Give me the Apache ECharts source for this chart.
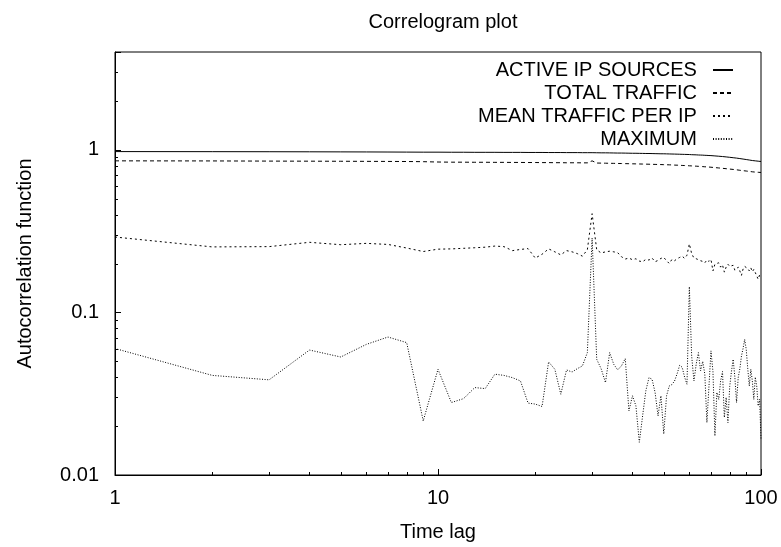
<!DOCTYPE html>
<html><head><meta charset="utf-8">
<script src="https://cdn.jsdelivr.net/npm/echarts@6/dist/echarts.min.js"></script>
<style>html,body{margin:0;padding:0;background:#fff}#c{width:781px;height:547px}</style>
</head><body><div id="c"></div>
<script>
const lags = [1,2,3,4,5,6,7,8,9,10,11,12,13,14,15,16,17,18,19,20,21,22,23,24,25,26,27,28,29,30,31,32,33,34,35,36,37,38,39,40,41,42,43,44,45,46,47,48,49,50,51,52,53,54,55,56,57,58,59,60,61,62,63,64,65,66,67,68,69,70,71,72,73,74,75,76,77,78,79,80,81,82,83,84,85,86,87,88,89,90,91,92,93,94,95,96,97,98,99,100];
const activeIP = [0.976,0.975,0.974,0.973,0.972,0.971,0.970,0.969,0.968,0.968,
0.967,0.967,0.966,0.966,0.966,0.965,0.965,0.965,0.964,0.964,
0.964,0.963,0.963,0.963,0.962,0.962,0.962,0.961,0.961,0.961,
0.960,0.959,0.959,0.958,0.957,0.956,0.956,0.955,0.954,0.953,
0.953,0.952,0.951,0.950,0.950,0.949,0.948,0.947,0.946,0.946,
0.945,0.944,0.943,0.942,0.941,0.940,0.939,0.938,0.937,0.936,
0.934,0.933,0.932,0.930,0.929,0.928,0.926,0.925,0.923,0.922,
0.920,0.918,0.916,0.914,0.912,0.910,0.908,0.905,0.903,0.900,
0.898,0.895,0.892,0.890,0.887,0.884,0.881,0.878,0.875,0.872,
0.869,0.866,0.863,0.860,0.858,0.856,0.854,0.852,0.850,0.848];
const totalTraffic = [0.856,0.855,0.853,0.852,0.851,0.850,0.849,0.848,0.846,0.842,
0.840,0.840,0.839,0.839,0.838,0.838,0.837,0.837,0.836,0.836,
0.835,0.835,0.834,0.834,0.833,0.833,0.833,0.832,0.832,0.856,
0.830,0.829,0.828,0.827,0.826,0.825,0.824,0.823,0.822,0.821,
0.820,0.819,0.818,0.817,0.816,0.815,0.814,0.813,0.812,0.811,
0.810,0.809,0.808,0.806,0.805,0.804,0.802,0.801,0.800,0.798,
0.797,0.795,0.794,0.792,0.791,0.789,0.787,0.786,0.784,0.782,
0.780,0.778,0.776,0.774,0.772,0.770,0.768,0.766,0.764,0.762,
0.760,0.758,0.756,0.754,0.751,0.749,0.747,0.745,0.743,0.741,
0.739,0.737,0.735,0.733,0.731,0.730,0.729,0.728,0.727,0.726];
const meanPerIP = [0.291,0.253,0.254,0.270,0.261,0.266,0.262,0.249,0.237,0.245,
0.246,0.248,0.250,0.252,0.256,0.254,0.240,0.244,0.247,0.216,
0.228,0.246,0.236,0.226,0.240,0.236,0.230,0.222,0.243,0.405,
0.243,0.232,0.236,0.238,0.236,0.233,0.220,0.213,0.216,0.211,
0.214,0.207,0.205,0.212,0.210,0.216,0.205,0.209,0.215,0.218,
0.208,0.200,0.212,0.208,0.214,0.218,0.222,0.215,0.225,0.264,
0.230,0.216,0.214,0.211,0.208,0.206,0.202,0.210,0.206,0.212,
0.180,0.198,0.194,0.202,0.190,0.196,0.177,0.190,0.198,0.192,
0.188,0.195,0.182,0.186,0.190,0.180,0.169,0.185,0.192,0.193,
0.186,0.180,0.188,0.178,0.184,0.176,0.172,0.160,0.170,0.165];
const maximum = [0.060,0.041,0.0385,0.0587,0.0532,0.0636,0.0706,0.0652,0.0215,0.0447,
0.0279,0.0295,0.0345,0.034,0.0417,0.041,0.0397,0.0379,0.0277,0.0273,
0.0264,0.0496,0.0447,0.0314,0.0443,0.043,0.0451,0.0469,0.0566,0.287,
0.0515,0.045,0.037,0.0566,0.048,0.0443,0.047,0.052,0.0248,0.0307,
0.0266,0.0159,0.0231,0.033,0.0397,0.0388,0.0322,0.0231,0.0307,0.0179,
0.0307,0.0353,0.036,0.0379,0.042,0.0473,0.046,0.040,0.0362,0.144,
0.054,0.0379,0.048,0.0566,0.0438,0.050,0.0417,0.021,0.035,0.058,
0.0433,0.0174,0.0322,0.0292,0.038,0.0433,0.0226,0.030,0.021,0.035,
0.0433,0.0515,0.040,0.0279,0.0397,0.045,0.054,0.060,0.0683,0.0593,
0.045,0.0353,0.0447,0.038,0.0292,0.040,0.0353,0.0266,0.0292,0.0166];
const seriesNames = ['ACTIVE IP SOURCES','TOTAL TRAFFIC','MEAN TRAFFIC PER IP','MAXIMUM'];
const xTickLabels = ['1','10','100'];
const yTickLabels = ['0.01','0.1','1'];
const xMinorTicks = [2,3,4,5,6,7,8,9,20,30,40,50,60,70,80,90];
const yMinorTicks = [0.02,0.03,0.04,0.05,0.06,0.07,0.08,0.09,0.2,0.3,0.4,0.5,0.6,0.7,0.8,0.9,2,3,4];
const xRange = [1, 100];
const yRange = [0.01, 4];

const FONT = 'Liberation Sans, Arial, sans-serif';
function pickLabel(v, labels) {
  for (const l of labels) { if (Math.abs(Math.log10(v) - Math.log10(parseFloat(l))) < 1e-6) return l; }
  return '';
}
const dashes = ['solid', [4, 3], [2, 3], [1, 1.6]];
const datasets = [activeIP, totalTraffic, meanPerIP, maximum];
const lineSeries = datasets.map((arr, k) => ({
  name: seriesNames[k], type: 'line', showSymbol: false, symbol: 'none', symbolSize: 0,
  data: lags.map((x, i) => [x, arr[i]]),
  lineStyle: { color: '#000', width: 1, type: dashes[k] },
  itemStyle: { color: '#000' },
  z: 3
}));
const chart = echarts.init(document.getElementById('c'), null, { renderer: 'canvas' });
chart.setOption({
  animation: false,
  backgroundColor: '#fff',
  title: { text: 'Correlogram plot', left: 438, textAlign: 'center', top: 7,
    textStyle: { fontFamily: FONT, fontSize: 20, fontWeight: 'normal', color: '#000' } },
  grid: { left: 115, right: 20, top: 52, bottom: 71, show: true, borderColor: '#000', borderWidth: 1, containLabel: false },
  legend: {
    data: seriesNames, orient: 'vertical', align: 'right', right: 47, top: 59, padding: 0,
    itemWidth: 20, itemHeight: 10, itemGap: 1,
    itemStyle: { opacity: 0 },
    textStyle: { fontFamily: FONT, fontSize: 20, color: '#000', lineHeight: 22 },
    formatter: n => n + '  ', selectedMode: false
  },
  xAxis: {
    type: 'log', logBase: 10, min: xRange[0], max: xRange[1],
    name: 'Time lag', nameLocation: 'middle', nameGap: 47,
    nameTextStyle: { fontFamily: FONT, fontSize: 20, color: '#000' },
    axisLine: { show: true, lineStyle: { color: '#000', width: 1 } },
    axisTick: { show: true, inside: true, length: 6, lineStyle: { color: '#000' } },
    axisLabel: { fontFamily: FONT, fontSize: 20, color: '#000', margin: 13,
      formatter: v => pickLabel(v, xTickLabels) },
    splitLine: { show: false }
  },
  yAxis: {
    type: 'log', logBase: 10, min: yRange[0], max: yRange[1],
    name: 'Autocorrelation function', nameLocation: 'middle', nameGap: 80,
    nameTextStyle: { fontFamily: FONT, fontSize: 20, color: '#000' },
    axisLine: { show: true, lineStyle: { color: '#000', width: 1 } },
    axisTick: { show: true, inside: true, length: 6, lineStyle: { color: '#000' } },
    axisLabel: { fontFamily: FONT, fontSize: 20, color: '#000', margin: 16,
      formatter: v => pickLabel(v, yTickLabels) },
    splitLine: { show: false }
  },
  series: lineSeries.concat([
    { type: 'custom', name: 'xminor', silent: true, clip: false, z: 4,
      data: xMinorTicks.map(v => [v, yRange[0]]),
      renderItem: (params, api) => {
        const p = api.coord([api.value(0), api.value(1)]);
        const x = Math.round(p[0]) + 0.5;
        return { type: 'line', shape: { x1: x, y1: p[1], x2: x, y2: p[1] - 3 }, style: { stroke: '#000', lineWidth: 1 } };
      } },
    { type: 'custom', name: 'yminor', silent: true, clip: false, z: 4,
      data: yMinorTicks.map(v => [xRange[0], v]),
      renderItem: (params, api) => {
        const p = api.coord([api.value(0), api.value(1)]);
        const y = Math.round(p[1]) + 0.5;
        return { type: 'line', shape: { x1: p[0], y1: y, x2: p[0] + 3, y2: y }, style: { stroke: '#000', lineWidth: 1 } };
      } }
  ])
});
</script></body></html>
